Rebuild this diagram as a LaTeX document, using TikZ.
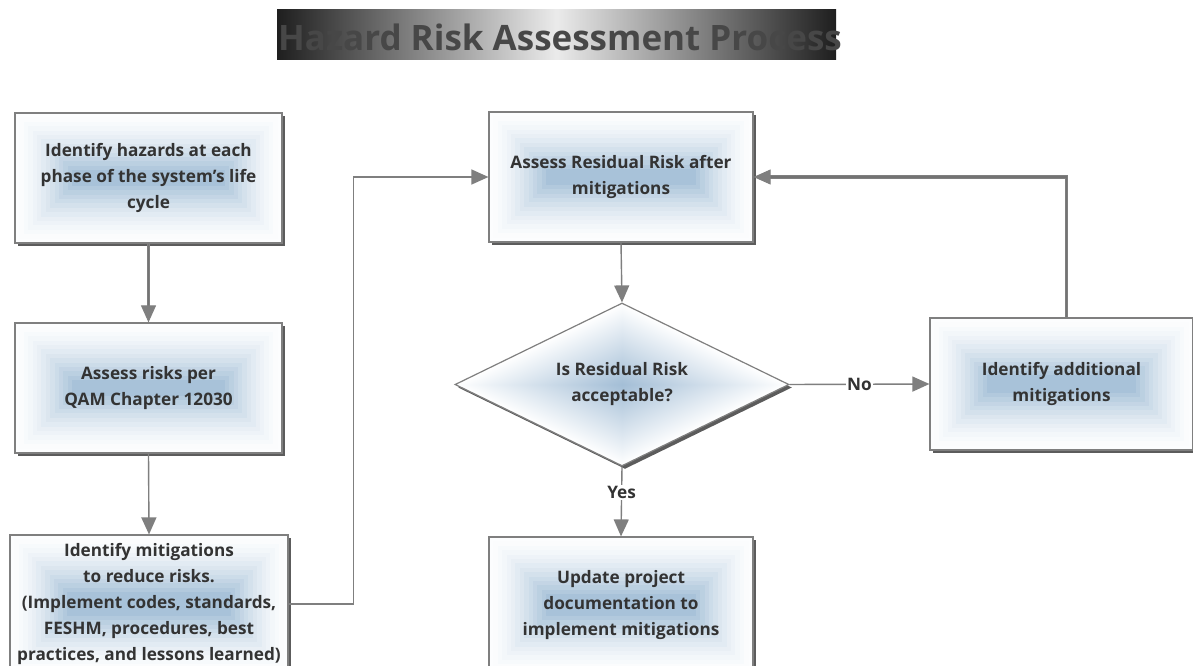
\documentclass[tikz,border=0pt]{standalone}
\usepackage{fontspec}
\setmainfont{Open Sans}
\usetikzlibrary{arrows.meta,shapes.geometric,shadows,positioning}
\definecolor{txt}{HTML}{333333}
\definecolor{lin}{HTML}{7F7F7F}
\definecolor{boxblue}{HTML}{A8C2D9}
\pgfdeclarefunctionalshading{diashade}{\pgfpoint{-50bp}{-50bp}}{\pgfpoint{50bp}{50bp}}{}{
  abs exch abs add 25 div
  dup 1 gt {pop 1} if
  1.0 exp
  dup 0.36 mul 0.64 add
  exch dup 0.255 mul 0.745 add
  exch 0.16 mul 0.84 add
}
\tikzset{
  boxfill/.style={path picture={
    \foreach \i in {0,...,13}{
      \pgfmathtruncatemacro{\p}{100*(\i/13)^1.5}
      \fill[boxblue!\p!white!97!boxblue]
        ([shift={(\i*4.4pt,-\i*4.4pt)}]path picture bounding box.north west) rectangle
        ([shift={(-\i*4.4pt,\i*4.4pt)}]path picture bounding box.south east);
    }}},
  base/.style={draw=lin, line width=1.2pt,
    drop shadow={shadow xshift=3pt, shadow yshift=-3pt, fill=black!75, opacity=.85},
    text=txt, font=\bfseries\fontsize{17.2}{26}\selectfont, align=center},
  box/.style={base, fill=white, boxfill},
  dec/.style={base, shape=diamond, shading=diashade, aspect=2.05, inner sep=0pt},
  conn/.style={draw=lin, line width=1.4pt, -{Triangle[length=17pt,width=15pt]}},
  dconn/.style={draw=lin, double=black!55, double distance=1.2pt, line width=1pt, -{Triangle[length=17pt,width=15pt]}},
  lbl/.style={fill=white, inner sep=1pt, text=txt, font=\bfseries\fontsize{17.2}{20}\selectfont}
}
\begin{document}
\begin{tikzpicture}[x=1pt,y=-1pt]
\useasboundingbox (0,0) rectangle (1193,666);
\clip (0,0) rectangle (1193,666);
\fill[white] (0,0) rectangle (1193,666);
% title
\node[minimum width=559pt, minimum height=50pt, inner sep=0pt,
  left color=black!88, right color=black!88, middle color=black!8] (title) at (556.5,35) {};
\node[text=black!72, font=\bfseries\fontsize{35}{38}\selectfont, inner sep=0pt] (titletext) at (560,37) {Hazard Risk Assessment Process};
% boxes
\node[box, minimum width=267pt, minimum height=130pt] (b1) at (148.5,178) {Identify hazards at each\\phase of the system's life\\cycle};
\node[box, minimum width=267pt, minimum height=130pt] (b2) at (148.5,388) {Assess risks per\\QAM Chapter 12030};
\node[box, minimum width=278pt, minimum height=138pt] (b3) at (149,604) {Identify mitigations\\to reduce risks.\\(Implement codes, standards,\\FESHM, procedures, best\\practices, and lessons learned)};
\node[box, minimum width=264pt, minimum height=130pt] (b4) at (621,177) {Assess Residual Risk after\\mitigations};
\node[dec, minimum width=334pt, minimum height=163pt] (d) at (622,384.5) {Is Residual Risk\\acceptable?};
\node[box, minimum width=263pt, minimum height=132pt] (b5) at (1061.5,384) {Identify additional\\mitigations};
\node[box, minimum width=264pt, minimum height=136pt] (b6) at (621,605) {Update project\\documentation to\\implement mitigations};
% connectors
\draw[dconn] (b1.south) -- (b2.north);
\draw[conn] (b2.south) -- (b3.north);
\draw[conn] (b3.east) -- ++(65,0) |- (b4.west);
\draw[conn] (b4.south) -- (d.north);
\draw[conn] (d.east) -- node[lbl] (no) {No} (b5.west);
\draw[conn] (d.south) -- node[lbl, pos=0.37] (yes) {Yes} (b6.north);
\draw[dconn] ([xshift=5pt]b5.north) |- (b4.east);
\end{tikzpicture}
\end{document}
